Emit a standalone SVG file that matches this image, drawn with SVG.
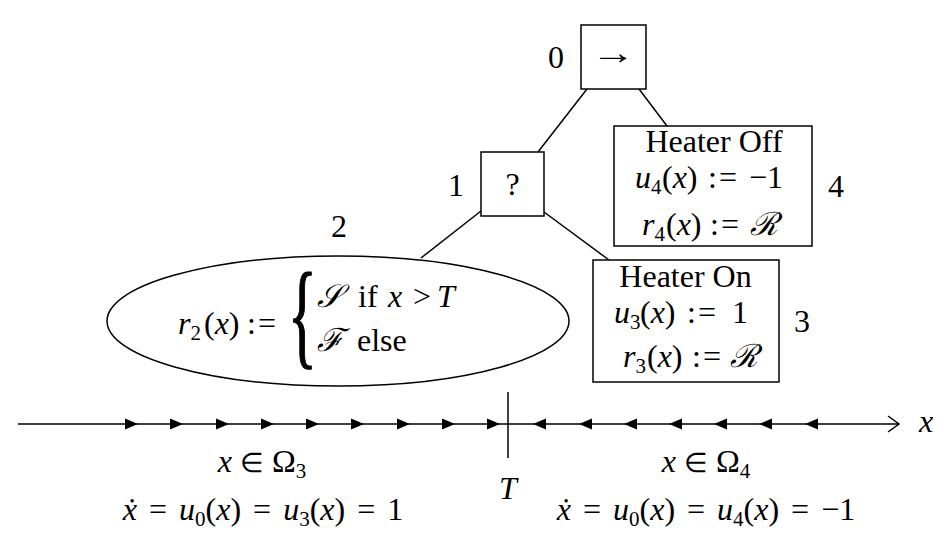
<svg xmlns="http://www.w3.org/2000/svg" width="948" height="543" viewBox="0 0 948 543">
<style>
text{fill:#000;font-size:32px;font-family:'Liberation Serif','Times New Roman',serif;}
.i{font-style:italic;}
.s{font-size:21px;font-style:normal;}
.c{text-anchor:middle;}
.ce{letter-spacing:2px;}
.eq{word-spacing:4px;}
.el{font-size:27px;}
.ln{stroke:#000;stroke-width:1.5;fill:none;}
.bx{stroke:#000;stroke-width:1.5;fill:#fff;}
</style>
<defs>
<path id="ar" d="M0,0 L-13,-5.5 L-13,5.5 Z" fill="#000"/>
<path id="al" d="M0,0 L13,-5.5 L13,5.5 Z" fill="#000"/>
</defs>

<g id="connectors">
<line class="ln" x1="587" y1="89" x2="538" y2="152"/>
<line class="ln" x1="639" y1="89" x2="667" y2="126"/>
<line class="ln" x1="481" y1="211" x2="421" y2="258"/>
<line class="ln" x1="544" y1="212" x2="609" y2="260"/>
</g>

<g id="node0">
<rect class="bx" x="581" y="25" width="65" height="64"/>
<text x="0" y="0" class="c" style="font-size:34px" transform="translate(613,64) scale(1.3,1)">→</text>
<text x="556" y="68" class="c">0</text>
</g>

<g id="node1">
<rect class="bx" x="481" y="152" width="63" height="64"/>
<text x="512.5" y="195" class="c">?</text>
<text x="456" y="196" class="c">1</text>
</g>

<g id="node2">
<ellipse class="ln" cx="338" cy="321" rx="231" ry="65"/>
<text x="339" y="237" class="c">2</text>
<text y="334"><tspan x="178" class="i">r</tspan><tspan class="s" dy="6">2</tspan><tspan x="204" dy="-6">(</tspan><tspan class="i">x</tspan>)<tspan x="247" class="ce">:=</tspan></text>
<text x="0" y="0" style="font-size:60px;stroke:#000;stroke-width:0.8" transform="translate(288,353) scale(1,1.95)">{</text>
<text y="307"><tspan x="317" class="i">𝒮</tspan><tspan x="358">if</tspan><tspan x="388" class="i">x</tspan><tspan x="413">&gt;</tspan><tspan x="437" class="i">T</tspan></text>
<text y="351"><tspan x="317" class="i">ℱ</tspan><tspan x="357">else</tspan></text>
</g>

<g id="node3">
<rect class="bx" x="593" y="260" width="186" height="122"/>
<text x="685.5" y="287" class="c">Heater On</text>
<text y="323"><tspan x="614" class="i">u</tspan><tspan class="s" dy="6">3</tspan><tspan x="640" dy="-6">(</tspan><tspan class="i">x</tspan>)<tspan x="687" class="ce">:=</tspan><tspan x="732">1</tspan></text>
<text y="367"><tspan x="623" class="i">r</tspan><tspan class="s" dy="6">3</tspan><tspan x="647" dy="-6">(</tspan><tspan class="i">x</tspan>)<tspan x="692" class="ce">:=</tspan><tspan x="730" class="i">ℛ</tspan></text>
<text x="802" y="332" class="c">3</text>
</g>

<g id="node4">
<rect class="bx" x="614" y="126" width="198" height="120"/>
<text x="714" y="152" class="c">Heater Off</text>
<text y="188"><tspan x="635" class="i">u</tspan><tspan class="s" dy="6">4</tspan><tspan x="662" dy="-6">(</tspan><tspan class="i">x</tspan>)<tspan x="708" class="ce">:=</tspan><tspan x="749">−1</tspan></text>
<text y="235"><tspan x="642" class="i">r</tspan><tspan class="s" dy="6">4</tspan><tspan x="666" dy="-6">(</tspan><tspan class="i">x</tspan>)<tspan x="710" class="ce">:=</tspan><tspan x="750" class="i">ℛ</tspan></text>
<text x="836" y="197" class="c">4</text>
</g>

<g id="axis">
<line class="ln" x1="18" y1="424" x2="899" y2="424"/>
<path class="ln" d="M888,416 L899,424 L888,432"/>
<line class="ln" x1="508" y1="392" x2="508" y2="458"/>
<use href="#ar" x="138" y="424"/>
<use href="#ar" x="183" y="424"/>
<use href="#ar" x="229" y="424"/>
<use href="#ar" x="274" y="424"/>
<use href="#ar" x="319" y="424"/>
<use href="#ar" x="364" y="424"/>
<use href="#ar" x="410" y="424"/>
<use href="#ar" x="455" y="424"/>
<use href="#ar" x="500" y="424"/>
<use href="#al" x="533" y="424"/>
<use href="#al" x="579" y="424"/>
<use href="#al" x="624" y="424"/>
<use href="#al" x="669" y="424"/>
<use href="#al" x="714" y="424"/>
<use href="#al" x="759" y="424"/>
<use href="#al" x="805" y="424"/>
<text x="926" y="432" class="c i">x</text>
<text x="508" y="499" class="c i">T</text>
<text x="262" y="472" class="c"><tspan class="i">x</tspan> <tspan class="el">∈</tspan> Ω<tspan class="s" dy="6">3</tspan></text>
<text x="706" y="472" class="c"><tspan class="i">x</tspan> <tspan class="el">∈</tspan> Ω<tspan class="s" dy="6">4</tspan></text>
<text x="263" y="520" class="c eq"><tspan class="i">ẋ</tspan> = <tspan class="i">u</tspan><tspan class="s" dy="6">0</tspan><tspan dy="-6">(</tspan><tspan class="i">x</tspan>) = <tspan class="i">u</tspan><tspan class="s" dy="6">3</tspan><tspan dy="-6">(</tspan><tspan class="i">x</tspan>) = 1</text>
<text x="706" y="520" class="c eq"><tspan class="i">ẋ</tspan> = <tspan class="i">u</tspan><tspan class="s" dy="6">0</tspan><tspan dy="-6">(</tspan><tspan class="i">x</tspan>) = <tspan class="i">u</tspan><tspan class="s" dy="6">4</tspan><tspan dy="-6">(</tspan><tspan class="i">x</tspan>) = −1</text>
</g>
</svg>
